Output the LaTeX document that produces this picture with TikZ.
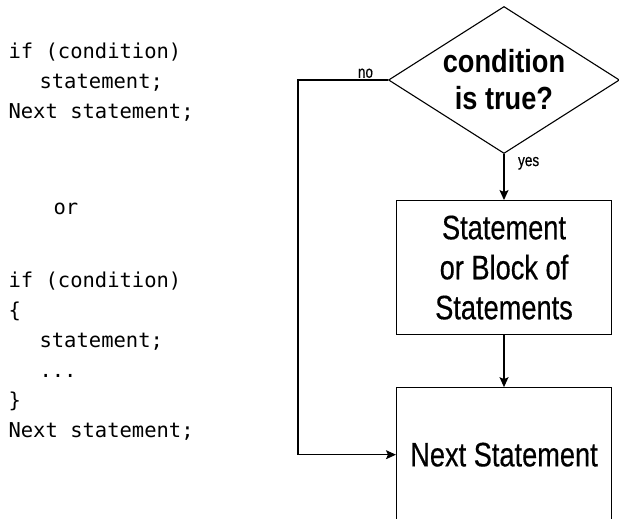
\documentclass[tikz,border=0pt]{standalone}
\usepackage{fontspec}
\newfontfamily\narrowfont[FakeStretch=0.8,FakeBold=0.4]{Liberation Sans}
\newfontfamily\narrowbold[FakeStretch=0.85]{Liberation Sans Bold}
\newfontfamily\codefont{DejaVu Sans Mono}
\usetikzlibrary{positioning, arrows.meta}
\usetikzlibrary{shapes.geometric}

\begin{document}
\begin{tikzpicture}[x=1pt,y=1pt,>={Stealth[length=10pt,width=9pt,inset=2pt]},line width=1.1pt,
	decision/.style={shape=diamond,draw,aspect=1.57,inner sep=-4pt,minimum width=231pt,minimum height=147pt,align=center,font=\narrowbold\fontsize{32pt}{37pt}\selectfont},
	block/.style={shape=rectangle,draw,minimum width=215pt,minimum height=134pt,align=center,font=\narrowfont\fontsize{34pt}{40pt}\selectfont},
	code/.style={anchor=base west,align=left,inner sep=0pt,font=\codefont\fontsize{20.5pt}{30pt}\selectfont},
	tag/.style={font=\narrowfont\fontsize{17pt}{20pt}\selectfont,inner sep=1.5pt},
	node distance=46pt,]
	\useasboundingbox (0,0) rectangle (619,519);
	    % the code on the left (placed by its last line)
		    \node[code] (code1) at (8,400) {if (condition)\\\hspace*{31pt}statement;\\Next statement;};
		    \node[code] (orword) at (53,304) {or};
		    \node[code] (code2) at (8,81) {if (condition)\\\{\\\hspace*{31pt}statement;\\\hspace*{31pt}...\\\}\\Next statement;};
	    % the flow chart
		    \node[decision] (cond) at (504,439) {condition\\is true?};
		    \node[block] (stmt)[below =46pt of cond] {Statement\\or Block of\\Statements};
		    \node[block] (next)[below =52pt of stmt] {Next Statement}; %bottom edge falls off the page
		    \draw[->] (cond) -- node[tag,right=12pt,pos=0.2] {yes} (stmt);
		    \draw[->] (stmt) -- (next);
		    \draw[->] (cond.west) -- node[tag,above,pos=0.25] {no} ++(-90pt,0) |- (next.west);
		\end{tikzpicture}
\end{document}
